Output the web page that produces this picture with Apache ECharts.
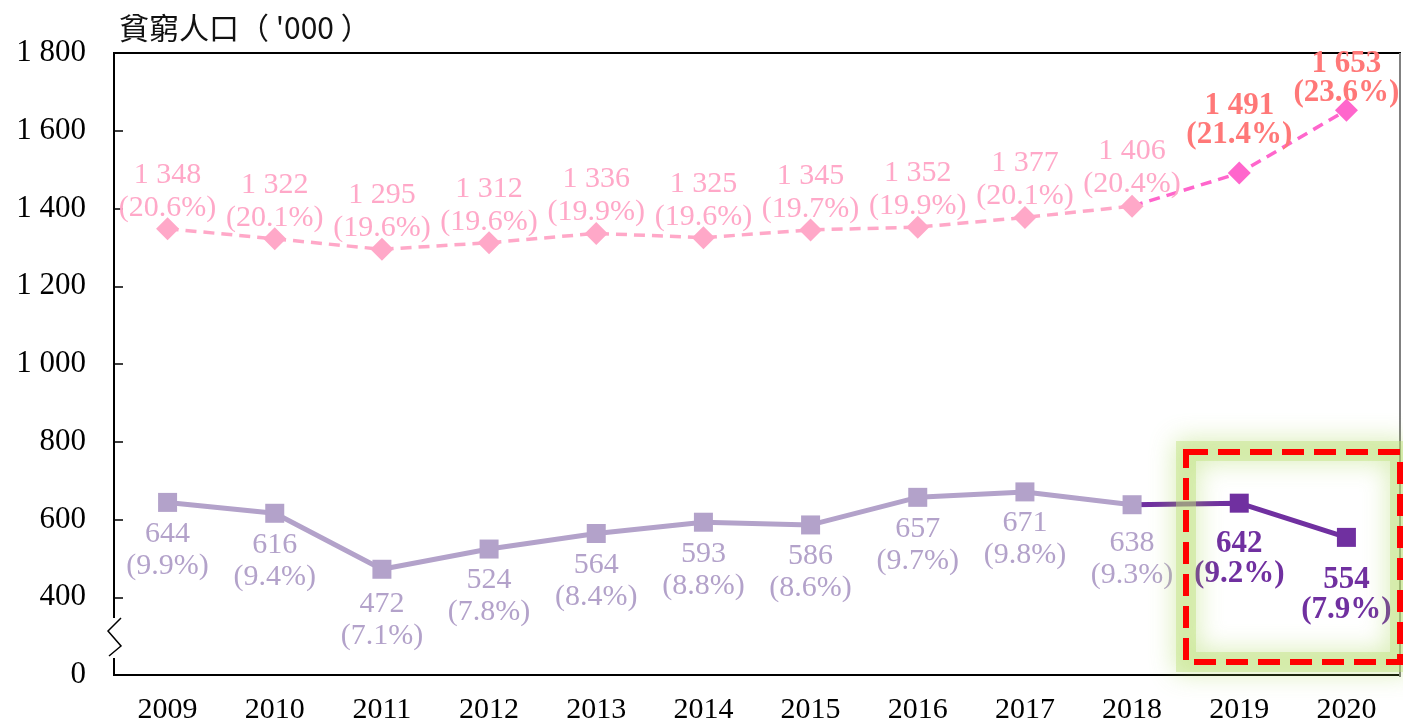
<!DOCTYPE html>
<html>
<head>
<meta charset="utf-8">
<script src="https://cdn.jsdelivr.net/npm/echarts@6/dist/echarts.min.js"></script>
<style>
  html, body { margin: 0; padding: 0; background: #fff; }
  #main { width: 1403px; height: 725px; }
</style>
</head>
<body>
<div id="main"></div>
<script>
// 年份
const years = ['2009', '2010', '2011', '2012', '2013', '2014', '2015', '2016', '2017', '2018', '2019', '2020']
// 政策介入前 貧窮人口 ('000) 及 貧窮率 (%)
const prePop = [1348, 1322, 1295, 1312, 1336, 1325, 1345, 1352, 1377, 1406, 1491, 1653]
const preRate = [20.6, 20.1, 19.6, 19.6, 19.9, 19.6, 19.7, 19.9, 20.1, 20.4, 21.4, 23.6]
// 政策介入後 (恆常現金)
const postPop = [644, 616, 472, 524, 564, 593, 586, 657, 671, 638, 642, 554]
const postRate = [9.9, 9.4, 7.1, 7.8, 8.4, 8.8, 8.6, 9.7, 9.8, 9.3, 9.2, 7.9]
// y 軸刻度 (底部 200 顯示為 0, 軸有斷開)
const yTicks = [0, 400, 600, 800, 1000, 1200, 1400, 1600, 1800]

const SERIF = '"Liberation Serif", "Times New Roman", serif'
const fmtNum = v => String(v).replace(/\B(?=(\d{3})+(?!\d))/g, ' ')
const lastOld = 9 // 2018, 兩段線的交接點

// 淺色段 (2009-2018) 和 深色段 (2018-2020)
const preOld = prePop.map((v, i) => i <= lastOld ? v : null)
const preNew = prePop.map((v, i) => i >= lastOld ? v : null)
const postOld = postPop.map((v, i) => i <= lastOld ? v : null)
const postNew = postPop.map((v, i) => i >= lastOld ? v : null)

let chart = echarts.init(document.getElementById('main'))

const preNewData = preNew.map((v, i) => {
  if (v == null) return null
  if (i === lastOld) return { value: v, symbolSize: 0, label: { show: false } }
  return { value: v, label: { distance: i === 10 ? 12 : -9 } }
})
const postNewData = postNew.map((v, i) => {
  if (v == null) return null
  if (i === lastOld) return { value: v, symbolSize: 0, label: { show: false } }
  return { value: v, label: { distance: i === 10 ? 16 : 18 } }
})
const preOldData = preOld.map((v, i) => {
  if (v == null) return null
  let d = -7
  if (i === 9) d = -6
  return { value: v, label: { distance: d } }
})
const postOldData = postOld.map((v, i) => {
  if (v == null) return null
  let d = 6
  if (i === 2) d = 9
  if (i === 9) d = 13
  return { value: v, label: { distance: d } }
})

let option = {
  animation: false,
  title: {
    text: "貧窮人口（ '000 ）",
    left: 114,
    top: 8,
    textStyle: { fontFamily: '"Noto Sans CJK TC", sans-serif', fontSize: 30, fontWeight: 'normal', color: '#111' }
  },
  grid: {
    left: 114,
    right: 3,
    top: 53,
    bottom: 48,
    show: true,
    borderColor: '#000',
    borderWidth: 2
  },
  xAxis: {
    type: 'category',
    data: years,
    boundaryGap: true,
    axisLine: { lineStyle: { color: '#000', width: 2 } },
    axisTick: { inside: true, length: 9, lineStyle: { color: '#000', width: 1.5 } },
    axisLabel: { color: '#000', fontFamily: SERIF, fontSize: 30, margin: 20 }
  },
  yAxis: {
    type: 'value',
    min: 200,
    max: 1800,
    interval: 200,
    splitLine: { show: false },
    axisLine: { show: true, lineStyle: { color: '#000', width: 2 } },
    axisTick: { show: true, inside: true, length: 9, lineStyle: { color: '#000', width: 1.5 } },
    axisLabel: {
      color: '#000',
      fontFamily: SERIF,
      fontSize: 31,
      margin: 28,
      formatter: v => v === 200 ? String(yTicks[0]) : (yTicks.includes(v) ? fmtNum(v) : '')
    }
  },
  series: [
    {
      name: '政策介入前 (新)',
      type: 'line',
      data: preNewData,
      symbol: 'diamond',
      symbolSize: 23,
      z: 2,
      itemStyle: { color: '#FF66CC' },
      lineStyle: { color: '#FF66CC', width: 3.5, type: [11, 7] },
      label: {
        show: true,
        position: 'top',
        fontFamily: SERIF,
        fontSize: 31,
        fontWeight: 'bold',
        lineHeight: 29,
        color: '#FF7878',
        formatter: p => fmtNum(prePop[p.dataIndex]) + '\n(' + preRate[p.dataIndex].toFixed(1) + '%)'
      }
    },
    {
      name: '政策介入前',
      type: 'line',
      data: preOldData,
      symbol: 'diamond',
      symbolSize: 23,
      z: 3,
      itemStyle: { color: '#FFA8C8' },
      lineStyle: { color: '#FFA8C8', width: 3.5, type: [11, 7] },
      label: {
        show: true,
        position: 'top',
        fontFamily: SERIF,
        fontSize: 30,
        lineHeight: 33,
        color: '#FFA8C8',
        formatter: p => fmtNum(prePop[p.dataIndex]) + '\n(' + preRate[p.dataIndex].toFixed(1) + '%)'
      }
    },
    {
      name: '政策介入後 (新)',
      type: 'line',
      data: postNewData,
      symbol: 'rect',
      symbolSize: 19,
      z: 2,
      itemStyle: { color: '#7030A0' },
      lineStyle: { color: '#7030A0', width: 5 },
      label: {
        show: true,
        position: 'bottom',
        fontFamily: SERIF,
        fontSize: 31,
        fontWeight: 'bold',
        lineHeight: 30,
        color: '#7030A0',
        formatter: p => postPop[p.dataIndex] + '\n(' + postRate[p.dataIndex].toFixed(1) + '%)'
      }
    },
    {
      name: '政策介入後',
      type: 'line',
      data: postOldData,
      symbol: 'rect',
      symbolSize: 19,
      z: 3,
      itemStyle: { color: '#B3A2CA' },
      lineStyle: { color: '#B3A2CA', width: 5 },
      label: {
        show: true,
        position: 'bottom',
        fontFamily: SERIF,
        fontSize: 30,
        lineHeight: 32,
        color: '#B3A2CA',
        formatter: p => postPop[p.dataIndex] + '\n(' + postRate[p.dataIndex].toFixed(1) + '%)'
      }
    }
  ],
  graphic: [
    // 右邊框灰色
    { type: 'line', z: 50, shape: { x1: 1400, y1: 53, x2: 1400, y2: 677 }, style: { stroke: '#808080', lineWidth: 2 } },
    // y 軸斷開符號
    { type: 'rect', z: 50, shape: { x: 104, y: 618, width: 20, height: 40 }, style: { fill: '#fff' } },
    {
      type: 'polyline', z: 51,
      shape: { points: [[121, 618], [108, 631], [121, 646], [109, 656]] },
      style: { stroke: '#000', lineWidth: 1.5, fill: null }
    },
    // 綠色光暈
    {
      type: 'rect', z: 60,
      shape: { x: 1186, y: 451, width: 214, height: 211 },
      style: { fill: null, stroke: 'rgba(190,226,125,0.45)', lineWidth: 20, shadowBlur: 26, shadowColor: 'rgba(160,210,70,1)' }
    },
    // 紅色虛線框
    {
      type: 'rect', z: 61,
      shape: { x: 1186, y: 452, width: 214, height: 210 },
      style: { fill: null, stroke: '#FF0000', lineWidth: 6, lineDash: [22, 10] }
    }
  ]
}
chart.setOption(option)
</script>
</body>
</html>
